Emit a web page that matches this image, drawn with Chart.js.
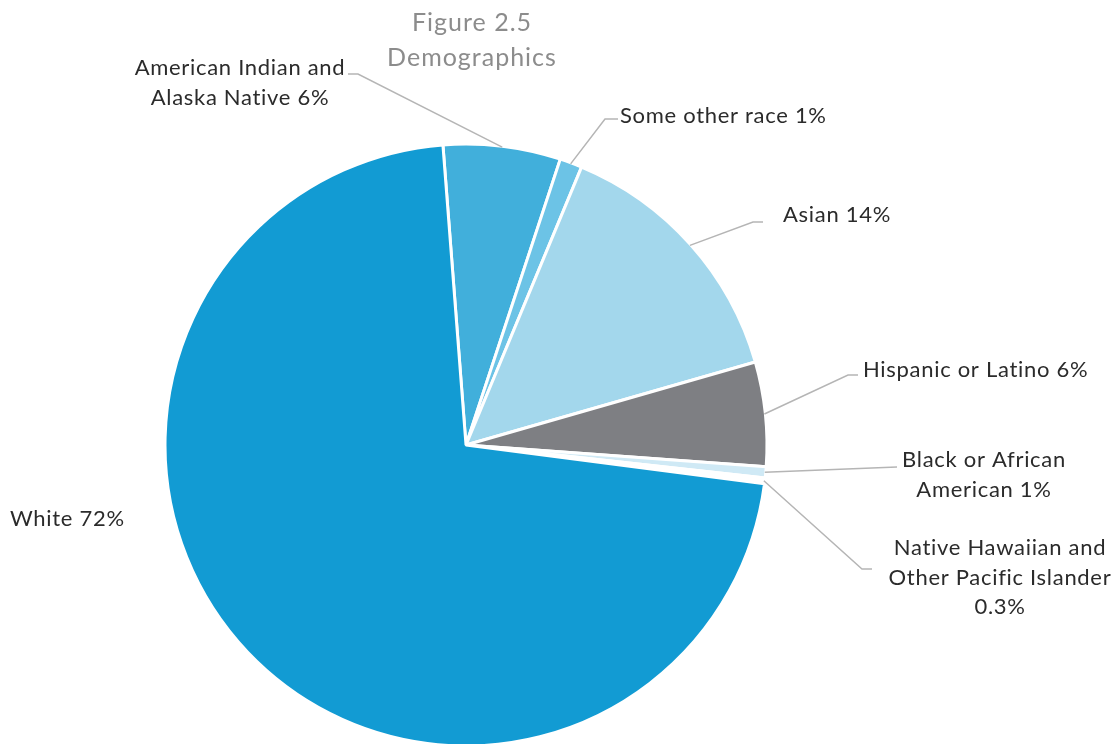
<!DOCTYPE html>
<html lang="en">
<head>
  <meta charset="UTF-8">
  <title>Figure 2.5 Demographics</title>
  <script src="https://cdn.jsdelivr.net/npm/chart.js"></script>
  <style>
    body {
      margin: 0;
      background: #ffffff;
      overflow: hidden;
    }
    .chart-container {
      width: 1116px;
      height: 744px;
      position: relative;
    }
  </style>
</head>
<body>
  <div class="chart-container">
    <canvas id="chartCanvas"></canvas>
  </div>

  <script>
    // Data
    const categories = [
      "American Indian and Alaska Native",
      "Some other race",
      "Asian",
      "Hispanic or Latino",
      "Black or African American",
      "Native Hawaiian and Other Pacific Islander",
      "White"
    ];
    const shares = [6.3, 1.2, 14.3, 5.6, 0.6, 0.3, 71.8];
    const shareLabels = ["6%", "1%", "14%", "6%", "1%", "0.3%", "72%"];
    const sliceColors = ["#41afdb", "#6cc3e6", "#a3d7ec", "#7e7f83", "#cfe9f5", "#ffffff", "#129bd3"];
    const titleLines = ["Figure 2.5", "Demographics"];

    // label text lines (wrapped like the original)
    const labelLines = [
      ["American Indian and", "Alaska Native " + shareLabels[0]],
      ["Some other race " + shareLabels[1]],
      ["Asian " + shareLabels[2]],
      ["Hispanic or Latino " + shareLabels[3]],
      ["Black or African", "American " + shareLabels[4]],
      ["Native Hawaiian and", "Other Pacific Islander", shareLabels[5]],
      ["White " + shareLabels[6]]
    ];

    // where each callout goes: elbow, end of the short horizontal, text anchor
    const calloutLayout = [
      { elbow: [358, 74], end: [348, 74], text: [240, 68], align: "center" },
      { elbow: [605, 119], end: [618, 119], text: [620, 116], align: "left" },
      { elbow: [753, 222], end: [763, 222], text: [783, 215], align: "left" },
      { elbow: [848, 375], end: [858, 375], text: [863, 370], align: "left" },
      { elbow: [897, 467], end: [897, 467], text: [984, 460], align: "center" },
      { elbow: [862, 569], end: [872, 569], text: [1000, 548], align: "center" },
      { elbow: null, end: null, text: [10, 519], align: "left" }
    ];

    const FONT = "Lato, 'Open Sans', sans-serif";

    const calloutPlugin = {
      id: "callouts",
      afterDraw(chart) {
        const ctx = chart.ctx;
        const arcs = chart.getDatasetMeta(0).data;
        ctx.save();

        // title
        ctx.fillStyle = "#8c8c8c";
        ctx.font = "25px " + FONT;
        ctx.letterSpacing = "1px";
        ctx.textAlign = "center";
        ctx.textBaseline = "middle";
        ctx.fillText(titleLines[0], 472, 23);
        ctx.fillText(titleLines[1], 472, 58);

        arcs.forEach((arc, i) => {
          const lay = calloutLayout[i];
          const p = arc.getProps(["x", "y", "startAngle", "endAngle", "outerRadius"], true);
          const mid = (p.startAngle + p.endAngle) / 2;
          if (lay.elbow) {
            const sx = p.x + Math.cos(mid) * (p.outerRadius - 1);
            const sy = p.y + Math.sin(mid) * (p.outerRadius - 1);
            ctx.strokeStyle = "#b5b5b5";
            ctx.lineWidth = 1.5;
            ctx.beginPath();
            ctx.moveTo(sx, sy);
            ctx.lineTo(lay.elbow[0], lay.elbow[1]);
            ctx.lineTo(lay.end[0], lay.end[1]);
            ctx.stroke();
          }
          ctx.fillStyle = "#2b2b2b";
          ctx.font = "22px " + FONT;
          ctx.letterSpacing = "0.7px";
          ctx.textAlign = lay.align;
          ctx.textBaseline = "middle";
          labelLines[i].forEach((line, k) => {
            ctx.fillText(line, lay.text[0], lay.text[1] + k * 29.5);
          });
        });
        ctx.restore();
      }
    };

    const ctx = document.getElementById("chartCanvas").getContext("2d");
    const chartInstance = new Chart(ctx, {
      type: "pie",
      data: {
        labels: categories,
        datasets: [{
          data: shares,
          backgroundColor: sliceColors,
          borderColor: "#ffffff",
          borderWidth: 3
        }]
      },
      options: {
        responsive: true,
        maintainAspectRatio: false,
        animation: false,
        rotation: -4.4,
        radius: 301,
        layout: {
          padding: { left: 0, right: 184, top: 146, bottom: 0 }
        },
        plugins: {
          legend: { display: false },
          tooltip: { enabled: false },
          title: { display: false }
        }
      },
      plugins: [calloutPlugin]
    });
  </script>
</body>
</html>
